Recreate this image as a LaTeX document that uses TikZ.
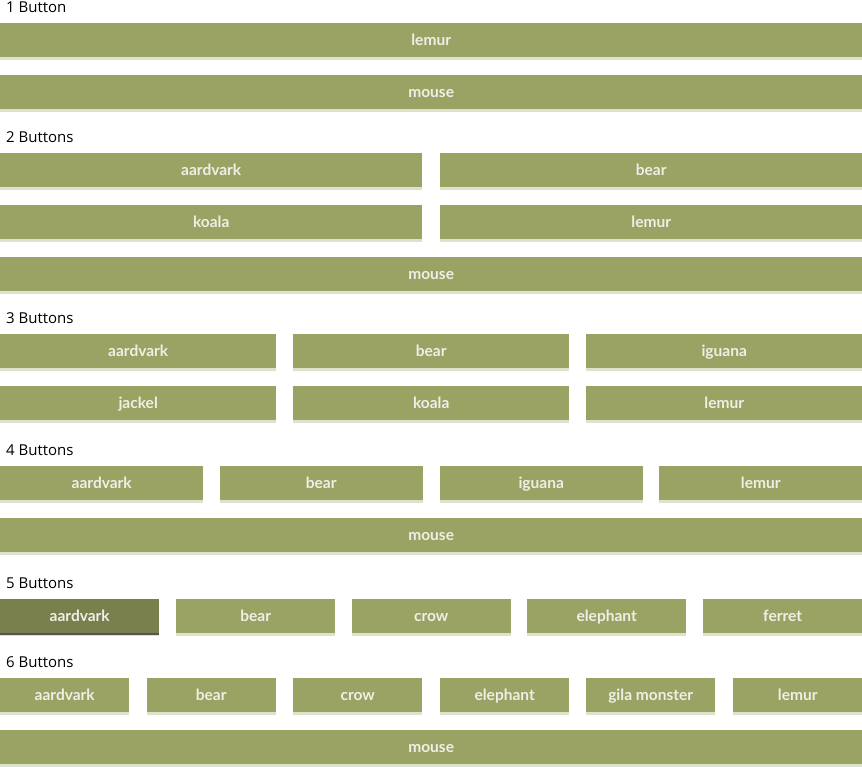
\documentclass[tikz,border=0pt]{standalone}
\usepackage{fontspec}
\setmainfont{Lato}[BoldFont={Lato Bold}]
\newfontfamily\headfont{Open Sans}
\usepackage{tikz}

\definecolor{btnfill}{HTML}{9AA264}
\definecolor{btnstrip}{HTML}{DDE2CC}
\definecolor{btntext}{HTML}{EEF0E6}
\definecolor{btnactive}{HTML}{7A7F4E}
\definecolor{btnline}{HTML}{555555}

\begin{document}
\begin{tikzpicture}[
                x=1pt, y=-1pt,
                heading/.style={anchor=base west, inner sep=0pt, text=black, font=\headfont\fontsize{15}{17}\selectfont},
                button/.style={anchor=north west, inner sep=0pt, minimum width=#1, minimum height=34pt,
                    text height=13pt, text depth=2pt,
                    fill=btnfill, text=btntext, font=\bfseries\fontsize{15.5}{17}\selectfont,
                    preaction={fill=btnstrip, transform canvas={yshift=-3pt}}},
                active/.style={button=#1, fill=btnactive,
                    preaction={fill=btnline, transform canvas={yshift=-2pt}}}
            ]
            \useasboundingbox (0,0) rectangle (862,767);

            % 1 Button
            \node[heading] (h1) at (6,13) {1 Button};
            \node[button=862pt] (b1a) at (0,23) {lemur};
            \node[button=862pt] (b1b) at (0,75) {mouse};

            % 2 Buttons
            \node[heading] (h2) at (6,142.5) {2 Buttons};
            \foreach \x/\nm/\txt in {0/a/aardvark, 440/b/bear}
                \node[button=422pt] (b2\nm) at (\x,153) {\txt};
            \foreach \x/\nm/\txt in {0/c/koala, 440/d/lemur}
                \node[button=422pt] (b2\nm) at (\x,205) {\txt};
            \node[button=862pt] (b2e) at (0,256.5) {mouse};

            % 3 Buttons
            \node[heading] (h3) at (6,323.5) {3 Buttons};
            \foreach \x/\nm/\txt in {0/a/aardvark, 293/b/bear, 586/c/iguana}
                \node[button=276pt] (b3\nm) at (\x,334) {\txt};
            \foreach \x/\nm/\txt in {0/d/jackel, 293/e/koala, 586/f/lemur}
                \node[button=276pt] (b3\nm) at (\x,386) {\txt};

            % 4 Buttons
            \node[heading] (h4) at (6,455.5) {4 Buttons};
            \foreach \x/\nm/\txt in {0/a/aardvark, 219.5/b/bear, 439.5/c/iguana, 659/d/lemur}
                \node[button=203pt] (b4\nm) at (\x,466) {\txt};
            \node[button=862pt] (b4e) at (0,518) {mouse};

            % 5 Buttons
            \node[heading] (h5) at (6,588.5) {5 Buttons};
            \node[active=159pt] (b5a) at (0,599) {aardvark};
            \foreach \x/\nm/\txt in {176/b/bear, 351.5/c/crow, 527/d/elephant, 703/e/ferret}
                \node[button=159pt] (b5\nm) at (\x,599) {\txt};

            % 6 Buttons
            \node[heading] (h6) at (6,667.5) {6 Buttons};
            \foreach \x/\nm/\txt in {0/a/aardvark, 146.5/b/bear, 293/c/crow, 440/d/elephant, 586/e/gila monster, 733/f/lemur}
                \node[button=129pt] (b6\nm) at (\x,678) {\txt};
            \node[button=862pt] (b6g) at (0,730) {mouse};

\end{tikzpicture}
\end{document}
